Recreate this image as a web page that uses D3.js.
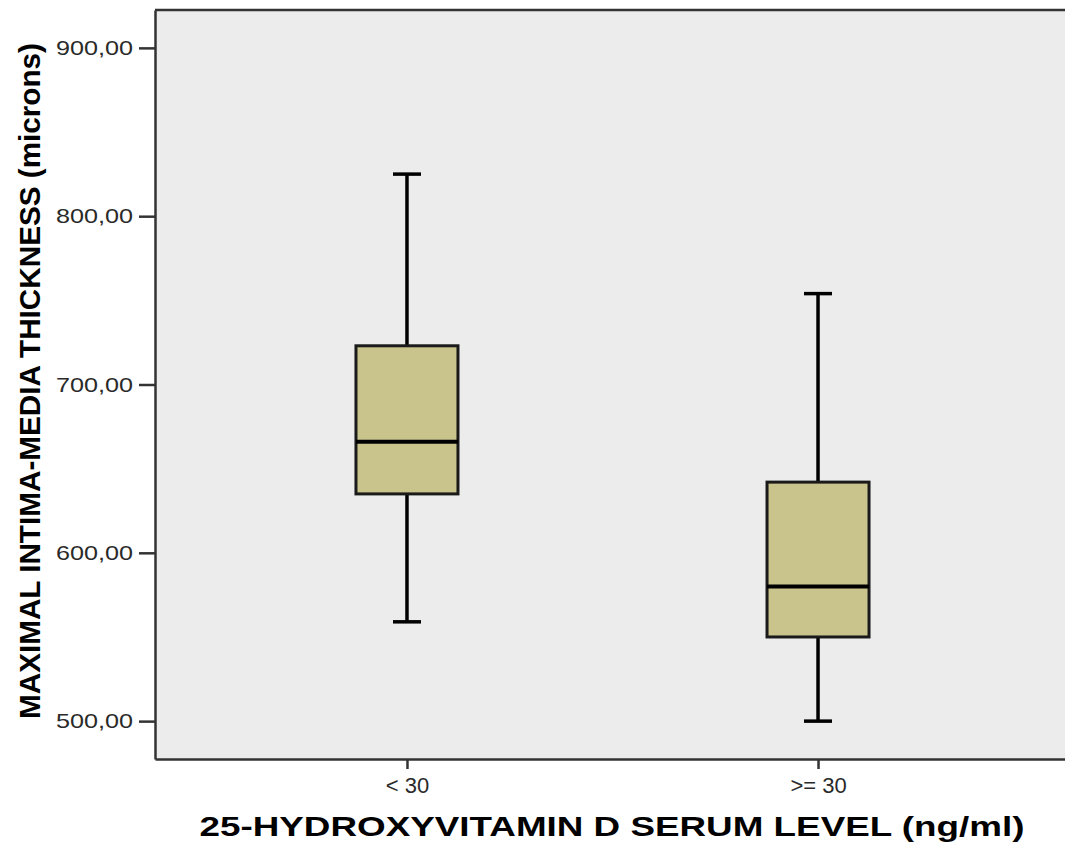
<!DOCTYPE html>
<html>
<head>
<meta charset="utf-8">
<script src="https://cdn.jsdelivr.net/npm/d3@7.9.0/dist/d3.min.js"></script>
<style>
	html, body { margin: 0; padding: 0; background: #fff; }
	svg { display: block; font-family: 'Liberation Sans', Arial, sans-serif; }
</style>
</head>
<body>
<svg id="chart" width="1065" height="843"></svg>
<script>
// data
const groups = ['< 30', '>= 30'];
const whiskerLow = [559, 500];
const q1 = [635, 550];
const median = [666, 580];
const q3 = [723, 642];
const whiskerHigh = [825, 754];
const yTicks = [500, 600, 700, 800, 900];

// the plot frame runs off the right edge of the picture
const plotLeft = 155, plotRight = 1070, plotTop = 10, plotBottom = 759;
const svg = d3.select('#chart');

const x = d3.scalePoint().domain(groups).range([plotLeft, plotRight]).padding(0.613);
const y = d3.scaleLinear().domain([477.5, 922.5]).range([plotBottom, plotTop]);

// plot background
svg.append('rect')
	.attr('x', plotLeft).attr('y', plotTop)
	.attr('width', plotRight - plotLeft).attr('height', plotBottom - plotTop)
	.attr('fill', '#ececec');

const boxW = 102, capW = 28;
const fmt = (d) => d3.format('.2f')(d).replace('.', ',');

groups.forEach((g, i) => {
	const cx = x(g);
	const gEl = svg.append('g');
	// whiskers
	gEl.append('line')
		.attr('x1', cx).attr('x2', cx)
		.attr('y1', y(whiskerHigh[i])).attr('y2', y(q3[i]))
		.attr('stroke', '#000').attr('stroke-width', 3.5);
	gEl.append('line')
		.attr('x1', cx).attr('x2', cx)
		.attr('y1', y(q1[i])).attr('y2', y(whiskerLow[i]))
		.attr('stroke', '#000').attr('stroke-width', 3.5);
	[whiskerHigh[i], whiskerLow[i]].forEach((v) => {
		gEl.append('line')
			.attr('x1', cx - capW / 2).attr('x2', cx + capW / 2)
			.attr('y1', y(v)).attr('y2', y(v))
			.attr('stroke', '#000').attr('stroke-width', 3.5);
	});
	// box
	gEl.append('rect')
		.attr('x', cx - boxW / 2).attr('y', y(q3[i]))
		.attr('width', boxW).attr('height', y(q1[i]) - y(q3[i]))
		.attr('fill', '#c9c38c').attr('stroke', '#1a1a1a').attr('stroke-width', 3);
	gEl.append('line')
		.attr('x1', cx - boxW / 2).attr('x2', cx + boxW / 2)
		.attr('y1', y(median[i])).attr('y2', y(median[i]))
		.attr('stroke', '#000').attr('stroke-width', 4);
});

// frame line on top
svg.append('line').attr('x1', plotLeft).attr('x2', plotRight).attr('y1', plotTop).attr('y2', plotTop)
	.attr('stroke', '#333').attr('stroke-width', 2.5);

// y axis
const yAxis = svg.append('g')
	.attr('transform', `translate(${plotLeft},0)`)
	.call(d3.axisLeft(y).tickValues(yTicks).tickFormat(fmt).tickSizeInner(16).tickSizeOuter(0).tickPadding(6));
yAxis.select('.domain').attr('stroke', '#333').attr('stroke-width', 2.5);
yAxis.selectAll('.tick line').attr('stroke', '#333').attr('stroke-width', 2.5);
yAxis.selectAll('.tick text')
	.attr('fill', '#2a2a2a').attr('font-size', 21)
	.attr('textLength', 77).attr('lengthAdjust', 'spacingAndGlyphs');

// x axis
const xAxis = svg.append('g')
	.attr('transform', `translate(0,${plotBottom})`)
	.call(d3.axisBottom(x).tickSizeInner(10).tickSizeOuter(0).tickPadding(8));
xAxis.select('.domain').attr('stroke', '#333').attr('stroke-width', 2.5);
xAxis.selectAll('.tick line').attr('stroke', '#333').attr('stroke-width', 2.5);
xAxis.selectAll('.tick text')
	.attr('fill', '#2a2a2a').attr('font-size', 22);

// axis titles
svg.append('text')
	.attr('x', 612).attr('y', 836)
	.attr('text-anchor', 'middle')
	.attr('font-size', 28).attr('font-weight', 'bold').attr('fill', '#000')
	.attr('textLength', 825).attr('lengthAdjust', 'spacingAndGlyphs')
	.text('25-HYDROXYVITAMIN D SERUM LEVEL (ng/ml)');

svg.append('text')
	.attr('transform', 'translate(40,381) rotate(-90)')
	.attr('text-anchor', 'middle')
	.attr('font-size', 30).attr('font-weight', 'bold').attr('fill', '#000')
	.attr('textLength', 676).attr('lengthAdjust', 'spacingAndGlyphs')
	.text('MAXIMAL INTIMA-MEDIA THICKNESS (microns)');
</script>
</body>
</html>
